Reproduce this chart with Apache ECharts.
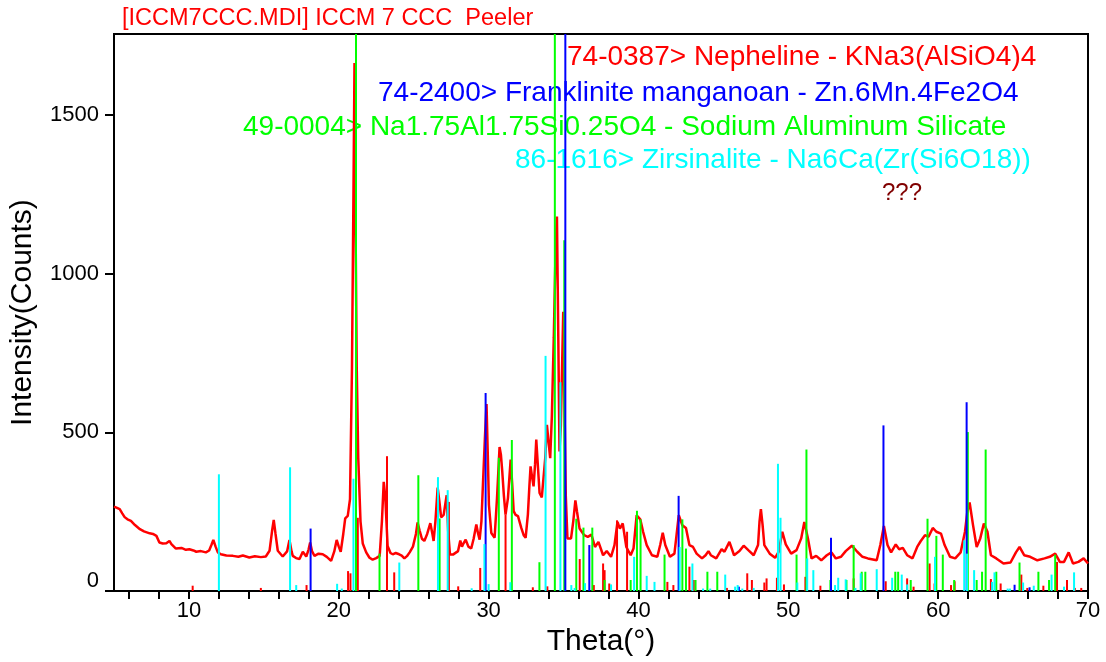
<!DOCTYPE html>
<html>
<head>
<meta charset="utf-8">
<title>ICCM 7 CCC Peeler</title>
<script src="https://cdn.jsdelivr.net/npm/echarts/dist/echarts.min.js"></script>
<style>
  html, body { margin: 0; padding: 0; background: #ffffff; }
  #chart { width: 1106px; height: 662px; }
</style>
</head>
<body>
<div id="chart"></div>
<script>
// Measured pattern: [2-theta (deg), counts]
const profile = [
  [5.0,266],[5.2,262],[5.38,258],[5.55,245],[5.71,233],[5.9,226],[6.13,221],[6.4,208],[6.73,195],[7.0,188],
  [7.38,182],[7.6,180],[7.83,174],[8.03,153],[8.25,150],[8.49,151],[8.7,158],[8.83,148],[9.13,134],[9.5,136],
  [9.8,130],[10.03,132],[10.3,128],[10.49,124],[10.8,126],[11.13,122],[11.35,128],[11.5,145],[11.63,161],[11.78,140],
  [11.93,122],[12.13,116],[12.5,112],[12.93,111],[13.3,108],[13.6,112],[14.03,106],[14.4,110],[14.8,107],[15.13,109],
  [15.38,127],[15.55,190],[15.66,224],[15.78,180],[15.93,127],[16.26,109],[16.55,125],[16.71,161],[16.85,125],[16.93,111],
  [17.15,104],[17.38,101],[17.6,124],[17.83,109],[17.98,130],[18.09,153],[18.22,125],[18.38,111],[18.65,118],[18.93,116],
  [19.2,108],[19.49,95],[19.7,125],[19.86,161],[20.0,140],[20.13,124],[20.3,180],[20.43,229],[20.6,237],[20.75,290],
  [20.88,700],[20.98,1250],[21.05,1664],[21.12,1150],[21.2,700],[21.3,420],[21.45,220],[21.6,150],[21.83,122],[22.05,105],
  [22.26,99],[22.5,104],[22.73,111],[22.88,220],[23.0,344],[23.1,300],[23.26,142],[23.45,120],[23.6,116],[23.8,120],
  [24.03,116],[24.2,112],[24.38,103],[24.55,110],[24.73,122],[24.95,140],[25.15,180],[25.26,216],[25.4,190],[25.55,165],
  [25.71,158],[25.9,180],[26.11,214],[26.25,180],[26.33,158],[26.45,220],[26.6,326],[26.72,280],[26.83,232],[27.0,240],
  [27.2,302],[27.3,190],[27.42,115],[27.62,115],[27.96,126],[28.11,159],[28.22,140],[28.29,147],[28.47,162],[28.65,140],
  [28.84,134],[29.0,165],[29.18,210],[29.28,185],[29.4,162],[29.52,220],[29.62,335],[29.75,480],[29.86,589],[29.95,420],
  [30.02,272],[30.18,183],[30.4,168],[30.56,293],[30.73,454],[30.82,430],[30.91,377],[31.02,300],[31.13,241],[31.29,293],
  [31.47,414],[31.57,340],[31.67,252],[31.8,240],[31.96,236],[32.18,199],[32.35,175],[32.47,168],[32.62,241],[32.72,330],
  [32.8,393],[32.9,360],[33.0,330],[33.1,400],[33.18,477],[33.28,400],[33.4,309],[33.55,295],[33.67,293],[33.78,420],
  [33.89,524],[34.0,470],[34.11,419],[34.22,550],[34.35,800],[34.47,1080],[34.56,1180],[34.65,800],[34.73,440],[34.82,520],
  [34.9,700],[34.98,880],[35.06,600],[35.15,300],[35.26,166],[35.5,166],[35.65,220],[35.79,286],[35.9,250],[36.07,197],
  [36.38,176],[36.62,171],[36.86,178],[37.1,139],[37.33,155],[37.64,113],[37.88,126],[38.17,108],[38.4,145],[38.6,218],
  [38.76,197],[38.95,213],[39.19,139],[39.48,113],[39.67,134],[39.88,239],[40.12,226],[40.31,187],[40.55,145],[40.9,113],
  [41.26,108],[41.45,145],[41.62,184],[41.79,145],[42.1,108],[42.4,118],[42.55,180],[42.69,239],[42.93,207],[43.17,199],
  [43.4,145],[43.64,139],[43.88,118],[44.24,103],[44.48,113],[44.67,126],[44.83,113],[45.19,103],[45.55,132],[45.74,124],
  [46.07,155],[46.38,113],[46.74,126],[47.02,143],[47.33,129],[47.69,113],[47.98,145],[48.08,220],[48.17,258],[48.28,210],
  [48.4,145],[48.76,118],[49.12,105],[49.36,124],[49.6,187],[49.83,147],[50.19,118],[50.55,129],[50.86,166],[51.07,218],
  [51.31,166],[51.55,103],[51.86,111],[52.2,97],[52.57,113],[52.88,122],[53.17,103],[53.52,108],[53.83,126],[54.24,143],
  [54.6,124],[54.95,108],[55.31,103],[55.9,97],[56.14,145],[56.38,205],[56.62,145],[56.86,122],[57.17,147],[57.4,132],
  [57.64,136],[57.93,113],[58.29,103],[58.6,139],[58.83,157],[59.12,176],[59.36,171],[59.64,199],[59.88,187],[60.19,181],
  [60.43,145],[60.79,108],[61.14,103],[61.5,122],[61.79,187],[61.95,250],[62.1,279],[62.33,207],[62.57,139],[62.81,166],
  [63.05,213],[63.29,187],[63.52,113],[63.88,103],[64.36,87],[64.83,90],[65.19,122],[65.43,139],[65.74,113],[66.14,108],
  [66.62,97],[67.1,103],[67.45,108],[67.81,118],[68.12,92],[68.4,92],[68.71,122],[69.0,87],[69.36,92],[69.71,103],[70.0,87]
];

// Reference line patterns: [2-theta (deg), scaled intensity]
const nepheline = [
  [10.25,17],[14.8,10],[17.85,19],[20.62,63],[20.78,56],[21.27,231],[23.22,425],[23.7,59],[27.35,281],[27.97,15],
  [29.44,73],[31.13,241],[32.95,12],[33.92,15],[36.08,101],[37.02,19],[37.64,87],[37.74,66],[38.05,24],[38.57,223],
  [39.24,187],[41.93,29],[42.33,19],[43.4,77],[43.69,35],[45.9,10],[47.26,56],[47.57,35],[48.4,27],[48.55,40],
  [49.24,42],[49.71,21],[51.14,45],[52.14,17],[54.36,40],[56.5,31],[57.93,40],[58.36,14],[59.43,87],[59.76,24],
  [60.86,19],[61.1,31],[63.52,38],[64.17,24],[65.55,52],[65.95,10],[67.02,17],[67.93,92],[68.6,35],[69.12,10],[69.55,10]
];
const franklinite = [
  [18.12,197],[29.8,624],[35.12,1900],[36.72,145],[42.68,300],[46.7,14],[52.85,168],[56.35,522],[61.9,595],[65.1,20],[66.1,12]
];
const sodiumAlSilicate = [
  [21.15,1900],[22.72,118],[25.31,365],[26.73,229],[30.68,420],[31.55,476],[33.39,91],[34.42,1900],[35.05,1105],[35.85,228],
  [36.33,200],[36.92,200],[37.74,35],[39.48,35],[39.9,253],[40.14,226],[41.74,115],[42.93,226],[43.17,134],[43.81,35],
  [44.6,61],[45.26,61],[50.55,115],[51.21,446],[52.81,35],[53.88,35],[54.36,145],[54.9,61],[55.14,61],[57.14,61],
  [57.33,61],[58.17,35],[59.29,228],[59.88,174],[60.31,115],[61.07,35],[61.98,501],[62.57,35],[62.93,61],[63.17,446],
  [63.88,61],[65.43,90],[66.69,61],[67.4,35],[67.81,115]
];
const zirsinalite = [
  [12.0,368],[16.75,390],[17.16,19],[19.89,23],[20.2,8],[20.98,354],[24.04,90],[26.62,359],[27.27,318],[28.87,9],
  [29.72,148],[30.0,22],[31.45,28],[33.8,741],[34.79,658],[35.52,19],[35.74,10],[36.43,25],[38.17,21],[39.71,108],
  [40.55,48],[41.07,29],[42.75,139],[43.6,87],[44.31,8],[44.79,8],[45.79,52],[46.45,14],[46.62,19],[46.93,8],
  [47.69,10],[49.31,401],[49.48,231],[50.6,27],[51.26,103],[51.67,66],[53.12,19],[53.33,42],[53.83,37],[54.48,10],
  [54.83,56],[55.9,69],[56.93,42],[57.57,52],[57.93,21],[59.79,108],[61.74,160],[61.93,118],[62.4,66],[63.6,29],
  [63.76,59],[64.64,8],[64.79,8],[65.67,27],[66.38,17],[67.57,52],[68.4,14],[69.07,59]
];

// Axis ticks and labels
const thetaTicks = [6,8,10,12,14,16,18,20,22,24,26,28,30,32,34,36,38,40,42,44,46,48,50,52,54,56,58,60,62,64,66,68,70];
const thetaLabels = [10,20,30,40,50,60,70];
const countTicks = [0,500,1000,1500];

// Header and phase identification lines
const headerText = '[ICCM7CCC.MDI] ICCM 7 CCC  Peeler';
const phaseNames = [
  '74-0387> Nepheline - KNa3(AlSiO4)4',
  '74-2400> Franklinite manganoan - Zn.6Mn.4Fe2O4',
  '49-0004> Na1.75Al1.75Si0.25O4 - Sodium Aluminum Silicate',
  '86-1616> Zirsinalite - Na6Ca(Zr(Si6O18))',
  '???'
];

const RED = '#ff0000', BLUE = '#0000ff', GREEN = '#00ff00', CYAN = '#00ffff', MAROON = '#800000';
const FONT = '"Liberation Sans", Arial, Helvetica, sans-serif';

function stickSeries(name, data, color) {
  return {
    name: name,
    type: 'custom',
    data: data,
    clip: true,
    z: 3,
    encode: { x: 0, y: 1 },
    renderItem: function (params, api) {
      const base = api.coord([api.value(0), 0]);
      const tip = api.coord([api.value(0), api.value(1)]);
      return {
        type: 'line',
        shape: { x1: base[0], y1: base[1], x2: tip[0], y2: tip[1] },
        style: { stroke: color, lineWidth: 2 }
      };
    }
  };
}

function phaseText(idx, x, y, color, size) {
  return {
    type: 'text', x: x, y: y, z: 1,
    style: {
      text: phaseNames[idx], fill: color,
      font: size + 'px ' + FONT,
      textVerticalAlign: 'middle', textAlign: 'left'
    }
  };
}

const chart = echarts.init(document.getElementById('chart'), null, { renderer: 'canvas' });
chart.setOption({
  animation: false,
  backgroundColor: '#ffffff',
  textStyle: { fontFamily: FONT },
  grid: {
    left: 114, right: 18, top: 34, bottom: 70,
    show: true, borderColor: '#000000', borderWidth: 2, backgroundColor: 'transparent'
  },
  xAxis: {
    type: 'value', min: 5, max: 70,
    name: 'Theta(°)', nameLocation: 'middle', nameGap: 34,
    nameTextStyle: { fontSize: 30, color: '#000000', fontFamily: FONT },
    axisLine: { show: true, lineStyle: { color: '#000000', width: 2 } },
    axisTick: { show: true, customValues: thetaTicks, length: 8, inside: false, lineStyle: { color: '#000000', width: 2 } },
    axisLabel: { show: true, customValues: thetaLabels, fontSize: 22, color: '#000000', margin: 9, fontFamily: FONT },
    splitLine: { show: false }
  },
  yAxis: {
    type: 'value', min: 0, max: 1755,
    name: 'Intensity(Counts)', nameLocation: 'middle', nameGap: 76, nameRotate: 90,
    nameTextStyle: { fontSize: 30, color: '#000000', fontFamily: FONT },
    axisLine: { show: true, lineStyle: { color: '#000000', width: 2 } },
    axisTick: { show: true, customValues: countTicks, length: 9, lineStyle: { color: '#000000', width: 2 } },
    axisLabel: {
      show: true, customValues: countTicks, fontSize: 22, color: '#000000', margin: 15, fontFamily: FONT,
      // plain integers; the zero label sits a little above the baseline
      formatter: function (v) { return v === 0 ? '{low|0}' : String(v); },
      rich: { low: { fontSize: 22, color: '#000000', fontFamily: FONT, padding: [0, 0, 20, 0] } }
    },
    splitLine: { show: false }
  },
  graphic: [
    {
      type: 'text', x: 122, y: 19, z: 1,
      style: { text: headerText, fill: RED, font: '23.5px ' + FONT, textVerticalAlign: 'middle', textAlign: 'left' }
    },
    phaseText(0, 567, 57, RED, 28),
    phaseText(1, 378, 93, BLUE, 28),
    phaseText(2, 243, 127, GREEN, 28),
    phaseText(3, 515, 160, CYAN, 28),
    phaseText(4, 882, 193, MAROON, 24)
  ],
  series: [
    {
      name: 'ICCM 7 CCC', type: 'line', data: profile, showSymbol: false, z: 2,
      lineStyle: { color: RED, width: 2.5 }, itemStyle: { color: RED }
    },
    stickSeries('Nepheline', nepheline, RED),
    stickSeries('Sodium Aluminum Silicate', sodiumAlSilicate, GREEN),
    stickSeries('Franklinite manganoan', franklinite, BLUE),
    stickSeries('Zirsinalite', zirsinalite, CYAN)
  ]
});
</script>
</body>
</html>
